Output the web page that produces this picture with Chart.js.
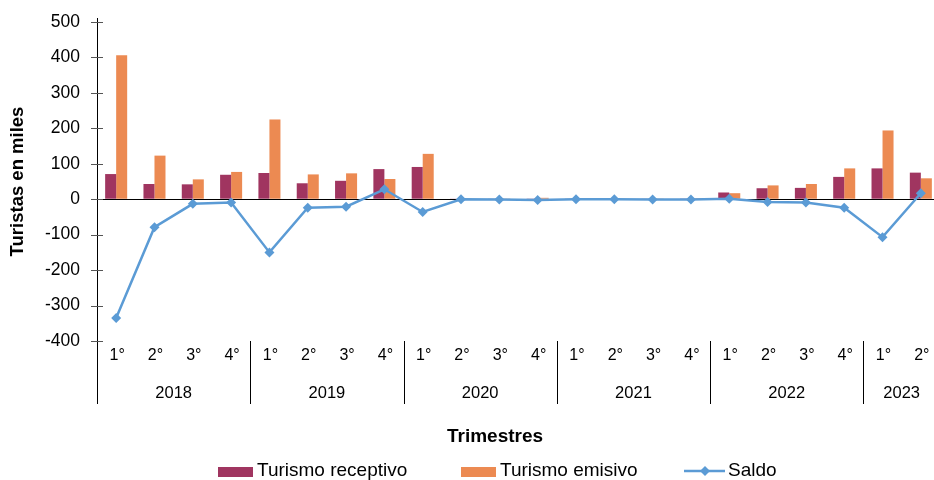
<!DOCTYPE html>
<html>
<head>
<meta charset="utf-8">
<script src="https://cdn.jsdelivr.net/npm/chart.js@4.4.1/dist/chart.umd.min.js"></script>
<style>
  html, body { margin: 0; padding: 0; background: #fff; overflow: hidden; }
  #wrap { width: 945px; height: 480px; position: relative; }
</style>
</head>
<body>
<div id="wrap"><canvas id="grafico"></canvas></div>
<script>
// datos por trimestre, 2018 T1 a 2023 T2
var trimestres = ['1°','2°','3°','4°','1°','2°','3°','4°','1°','2°','3°','4°','1°','2°','3°','4°','1°','2°','3°','4°','1°','2°'];
var anios = ['2018','2019','2020','2021','2022','2023'];
var receptivo = [71, 43, 42, 69, 74, 45, 52, 85, 91, 1, 1, 2, 1, 1, 1, 2, 19, 31, 32, 63, 87, 75];
var emisivo = [406, 123, 56, 77, 225, 70, 73, 57, 128, 1, 2, 4, 1, 1, 2, 3, 17, 39, 43, 87, 194, 59];
var saldo = [-335, -79, -13, -9, -150, -24, -21, 28, -36, 0, -1, -2, 0, 0, -1, -1, 1, -8, -9, -24, -107, 17];
var yTicks = [500, 400, 300, 200, 100, 0, -100, -200, -300, -400];

var colRecep = '#A03560';
var colEmis = '#EC8A52';
var colSaldo = '#5B9BD5';
var fuente = '"Liberation Sans", Arial, sans-serif';

// eje de categorias en dos niveles, marcas del eje y, leyenda
var extras = {
  id: 'extras',
  afterDraw: function(chart) {
    var c = chart.ctx;
    var x = chart.scales.x, y = chart.scales.y;
    var area = chart.chartArea;
    var bottom = area.bottom;
    c.save();
    // eje y prolongado y marcas
    c.strokeStyle = '#000';
    c.lineWidth = 1;
    c.beginPath();
    c.moveTo(area.left + 0.5, area.top - 4);
    c.lineTo(area.left + 0.5, 404);
    c.stroke();
    c.strokeStyle = '#555';
    yTicks.forEach(function(v) {
      var py = Math.round(y.getPixelForValue(v)) + 0.5;
      c.beginPath();
      c.moveTo(area.left - 6, py);
      c.lineTo(area.left + 6, py);
      c.stroke();
    });
    // separadores de anio
    c.strokeStyle = '#000';
    var half = (x.getPixelForValue(1) - x.getPixelForValue(0)) / 2;
    for (var i = 4; i < trimestres.length; i += 4) {
      var px = Math.round(x.getPixelForValue(i) - half) + 0.5;
      c.beginPath();
      c.moveTo(px, bottom);
      c.lineTo(px, 404);
      c.stroke();
    }
    // etiquetas
    c.fillStyle = '#000';
    c.textAlign = 'center';
    c.textBaseline = 'middle';
    c.font = '16px ' + fuente;
    trimestres.forEach(function(t, i) {
      c.fillText(t, x.getPixelForValue(i) + 1, 356);
    });
    c.font = '16.5px ' + fuente;
    anios.forEach(function(a, k) {
      var first = k * 4;
      var last = Math.min(first + 3, trimestres.length - 1);
      var px = (x.getPixelForValue(first) + x.getPixelForValue(last)) / 2;
      c.fillText(a, px, 393);
    });
    c.font = 'bold 19px ' + fuente;
    c.fillText('Trimestres', 495, 437);
    // leyenda
    c.textAlign = 'left';
    c.font = '19px ' + fuente;
    c.fillStyle = colRecep;
    c.fillRect(218, 467, 35, 10);
    c.fillStyle = colEmis;
    c.fillRect(461, 467, 35, 10);
    c.strokeStyle = colSaldo;
    c.lineWidth = 2.5;
    c.beginPath();
    c.moveTo(684, 471);
    c.lineTo(725, 471);
    c.stroke();
    c.fillStyle = colSaldo;
    c.beginPath();
    c.moveTo(705, 466);
    c.lineTo(710, 471);
    c.lineTo(705, 476);
    c.lineTo(700, 471);
    c.closePath();
    c.fill();
    c.fillStyle = '#000';
    c.fillText('Turismo receptivo', 257, 471);
    c.fillText('Turismo emisivo', 500, 471);
    c.fillText('Saldo', 728, 471);
    c.restore();
  }
};

var ctx = document.getElementById('grafico').getContext('2d');
var grafico = new Chart(ctx, {
  type: 'bar',
  data: {
    labels: trimestres,
    datasets: [{
      label: 'Saldo',
      type: 'line',
      data: saldo,
      borderColor: colSaldo,
      backgroundColor: colSaldo,
      borderWidth: 2.5,
      pointStyle: 'rectRot',
      pointRadius: 5,
      pointBorderWidth: 0,
      tension: 0,
      order: 0
    }, {
      label: 'Turismo receptivo',
      data: receptivo,
      backgroundColor: colRecep,
      categoryPercentage: 0.575,
      barPercentage: 1,
      order: 1
    }, {
      label: 'Turismo emisivo',
      data: emisivo,
      backgroundColor: colEmis,
      categoryPercentage: 0.575,
      barPercentage: 1,
      order: 1
    }]
  },
  options: {
    maintainAspectRatio: false,
    responsive: true,
    animation: false,
    layout: { padding: { top: 22, bottom: 139, right: 5, left: 0 } },
    plugins: {
      legend: { display: false },
      tooltip: { enabled: false }
    },
    scales: {
      x: { display: false },
      y: {
        min: -400,
        max: 500,
        afterFit: function(s) {
          s.width = 97;
          s.paddingTop = 0;
          s.paddingBottom = 0;
        },
        afterBuildTicks: function(s) {
          s.ticks = yTicks.map(function(v) { return { value: v }; });
        },
        border: { display: false },
        grid: {
          drawTicks: false,
          color: function(c) { return c.tick && c.tick.value === 0 ? '#000' : 'transparent'; }
        },
        ticks: {
          padding: 17,
          color: '#000',
          font: { size: 17.5, family: fuente }
        },
        title: {
          display: true,
          text: 'Turistas en miles',
          color: '#000',
          font: { size: 18.5, weight: 'bold', family: fuente },
          padding: { top: 7, bottom: 0 }
        }
      }
    }
  },
  plugins: [extras]
});
</script>
</body>
</html>
